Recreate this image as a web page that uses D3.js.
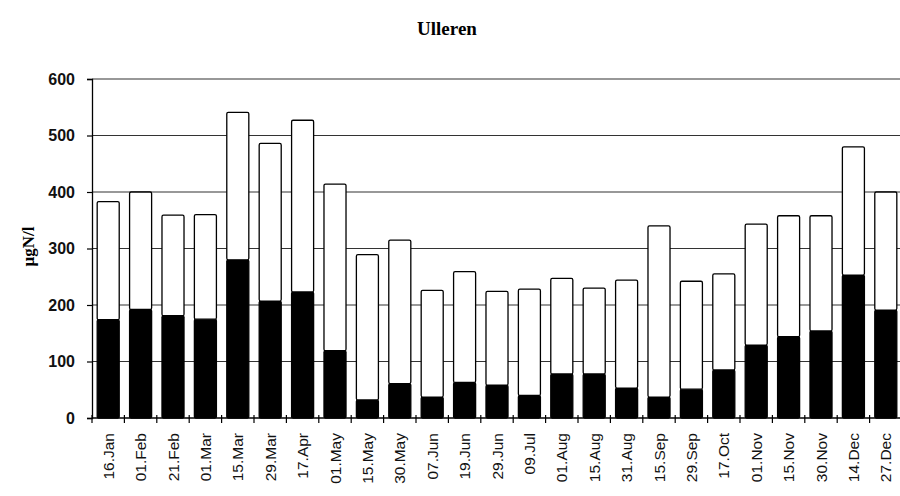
<!DOCTYPE html>
<html>
<head>
<meta charset="utf-8">
<script src="https://cdn.jsdelivr.net/npm/d3@7"></script>
<style>
  body { margin: 0; background: #fff; }
  svg { display: block; }
</style>
</head>
<body>
<div class="chart"></div>
<script>
// sampling dates
var dates = ["16.Jan", "01.Feb", "21.Feb", "01.Mar", "15.Mar", "29.Mar", "17.Apr", "01.May",
  "15.May", "30.May", "07.Jun", "19.Jun", "29.Jun", "09.Jul", "01.Aug", "15.Aug", "31.Aug",
  "15.Sep", "29.Sep", "17.Oct", "01.Nov", "15.Nov", "30.Nov", "14.Dec", "27.Dec"];

// lower (black) part of each bar, µgN/l
var blackValues = [174, 192, 181, 175, 280, 207, 223, 119, 32, 61, 37, 63, 58, 40, 78, 78, 53,
  37, 51, 85, 129, 144, 154, 253, 191];

// upper (white) part stacked on top
var whiteValues = [209, 208, 178, 185, 261, 279, 304, 295, 257, 254, 189, 196, 166, 188, 169, 152, 191,
  303, 191, 170, 214, 214, 204, 227, 209];

var yTicks = [0, 100, 200, 300, 400, 500, 600];

var rows = dates.map(function(d, i) {
  return {date: d, black: blackValues[i], white: whiteValues[i]};
});

var width = 900,
    height = 496,
    margin = {top: 79, right: -2, bottom: 78, left: 92};

var svg = d3.select("div.chart").append("svg")
    .attr("width", width)
    .attr("height", height);

var g = svg.append("g")
    .attr("transform", "translate(" + margin.left + "," + margin.top + ")");

var innerW = width - margin.left - margin.right,
    innerH = height - margin.top - margin.bottom;

var x = d3.scaleBand()
    .domain(dates)
    .range([0, innerW])
    .paddingInner(0.32)
    .paddingOuter(0.16);

var y = d3.scaleLinear()
    .domain([0, 600])
    .range([innerH, 0]);

// gridlines
g.append("g")
  .selectAll("line")
  .data(yTicks.slice(1))
  .enter().append("line")
    .attr("x1", 0)
    .attr("x2", innerW)
    .attr("y1", function(d) { return y(d); })
    .attr("y2", function(d) { return y(d); })
    .attr("stroke", "#333")
    .attr("stroke-width", 1.1);

var stacked = d3.stack().keys(["black", "white"])(rows);

g.append("g")
  .selectAll("g")
  .data(stacked)
  .enter().append("g")
    .attr("fill", function(s) { return s.key == "black" ? "#000" : "#fff"; })
  .selectAll("rect")
  .data(function(s) { return s; })
  .enter().append("rect")
    .attr("x", function(d) { return x(d.data.date); })
    .attr("y", function(d) { return y(d[1]); })
    .attr("width", x.bandwidth())
    .attr("height", function(d) { return y(d[0]) - y(d[1]); })
    .attr("stroke", "#000")
    .attr("stroke-width", 1.3)
    .attr("rx", 1.5);

// y axis
var yAxis = g.append("g")
    .call(d3.axisLeft(y).tickValues(yTicks).tickSize(5).tickPadding(12));
yAxis.select(".domain").attr("stroke", "#000").attr("stroke-width", 1.3);
yAxis.selectAll(".tick line").attr("stroke", "#000").attr("stroke-width", 1.2);
yAxis.selectAll("text")
    .attr("font-family", "Liberation Sans, Arial, sans-serif")
    .attr("font-size", 16)
    .attr("font-weight", "bold")
    .attr("fill", "#111");

// x axis: line plus cross ticks at band boundaries
var bounds = dates.map(function(d) { return x(d) - x.step() * x.paddingInner() / 2; });
bounds.push(innerW);

g.append("line")
    .attr("x1", 0).attr("x2", innerW)
    .attr("y1", innerH).attr("y2", innerH)
    .attr("stroke", "#000")
    .attr("stroke-width", 1.3);

g.append("g")
  .selectAll("line")
  .data(bounds)
  .enter().append("line")
    .attr("x1", function(d) { return d; })
    .attr("x2", function(d) { return d; })
    .attr("y1", innerH - 3)
    .attr("y2", innerH + 5)
    .attr("stroke", "#000")
    .attr("stroke-width", 1.2);

g.append("g")
  .selectAll("text")
  .data(dates)
  .enter().append("text")
    .attr("transform", function(d) {
      return "translate(" + (x(d) + x.bandwidth() / 2 + 5.5) + "," + (innerH + 15) + ") rotate(-90)";
    })
    .attr("text-anchor", "end")
    .attr("font-family", "Liberation Sans, Arial, sans-serif")
    .attr("font-size", 15.5)
    .attr("fill", "#111")
    .text(function(d) { return d; });

// title
svg.append("text")
    .attr("x", 447)
    .attr("y", 35)
    .attr("text-anchor", "middle")
    .attr("font-family", "Liberation Serif, Times New Roman, serif")
    .attr("font-size", 19)
    .attr("font-weight", "bold")
    .text("Ulleren");

// y axis title
svg.append("text")
    .attr("transform", "translate(34," + (margin.top + innerH / 2 - 2) + ") rotate(-90)")
    .attr("text-anchor", "middle")
    .attr("font-family", "Liberation Serif, Times New Roman, serif")
    .attr("font-size", 17)
    .attr("font-weight", "bold")
    .text("µgN/l");
</script>
</body>
</html>
